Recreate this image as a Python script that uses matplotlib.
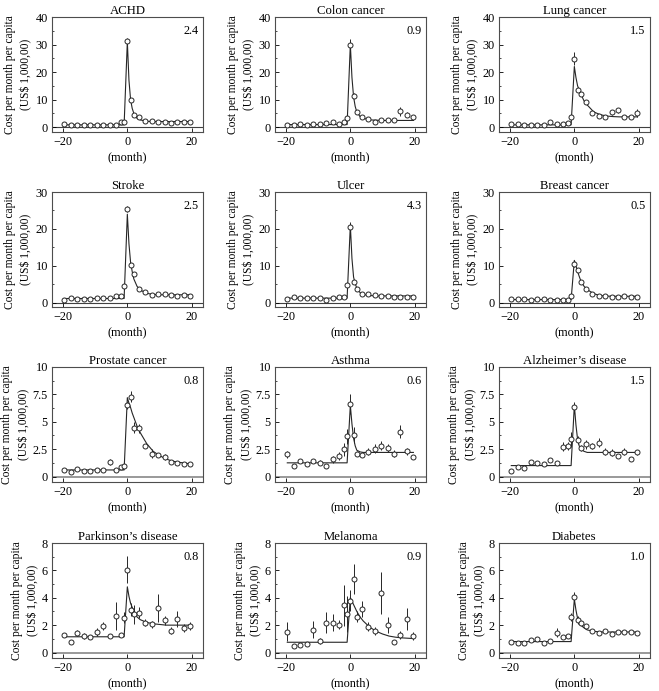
import numpy as np
import matplotlib.pyplot as plt
from matplotlib.ticker import AutoMinorLocator

plt.rcParams['font.family'] = ['Liberation Serif', 'DejaVu Serif']

# month positions of the observed points (same for every panel)
months = [-19.5, -17.5, -15.5, -13.5, -11.5, -9.5, -7.5, -5.5, -3.5, -2, -1,
          0, 1, 2, 3.5, 5.5, 7.5, 9.5, 11.5, 13.5, 15.5, 17.5, 19.5]
# months where the fitted curve was read
fit_x = [-19.5, -1, 0, 0.5, 1, 1.5, 2, 3, 4, 6, 8, 10, 12, 14, 16, 19.5]

titles = ["ACHD", "Colon cancer", "Lung cancer",
          "Stroke", "Ulcer", "Breast cancer",
          "Prostate cancer", "Asthma", "Alzheimer\u2019s disease",
          "Parkinson\u2019s disease", "Melanoma", "Diabetes"]
corner = ["2.4", "0.9", "1.5", "2.5", "4.3", "0.5",
          "0.8", "0.6", "1.5", "0.8", "0.9", "1.0"]

achd_y = [1.0, 0.6, 0.7, 0.6, 0.7, 0.6, 0.8, 0.8, 0.7, 2.0, 2.0,
          31.3, 9.9, 4.2, 3.6, 2.2, 2.2, 1.9, 1.9, 1.6, 1.7, 1.9, 1.9]
achd_err = [0.3] * 11 + [1.0, 0.6, 0.4, 0.4] + [0.3] * 8
achd_fit = [0.8, 0.8, 31, 17, 10, 6.8, 5, 3.2, 2.6, 2.1, 2.0, 2.0, 2.0, 2.0, 2.0, 2.0]

colon_y = [0.8, 0.8, 1.1, 0.7, 1.0, 1.1, 1.3, 1.9, 1.0, 1.9, 3.3,
           29.9, 11.4, 5.3, 3.7, 2.8, 1.9, 2.4, 2.4, 2.4, 5.7, 4.5, 3.5]
colon_err = [0.3] * 10 + [0.5, 2.0, 0.8, 0.4, 0.4, 0.3, 0.3, 0.3, 0.3, 0.3, 1.6, 1.0, 0.5]
colon_fit = [0.9, 0.9, 30, 18, 11, 7.5, 5.5, 3.8, 3.2, 2.6, 2.5, 2.4, 2.4, 2.4, 2.4, 2.4]

lung_y = [1.1, 1.1, 0.6, 0.6, 0.8, 0.8, 2.0, 1.1, 1.2, 1.6, 3.7,
          24.9, 13.5, 12.0, 9.0, 5.1, 4.1, 3.6, 5.3, 6.1, 3.7, 3.5, 5.1]
lung_err = [0.3] * 10 + [0.5, 2.5, 0.8, 0.8, 0.8, 0.5, 0.4, 0.4, 1.0, 1.0, 0.4, 0.4, 1.5]
lung_fit = [0.8, 0.8, 22, 18, 15, 13.5, 12, 9.5, 8, 5.5, 4.5, 4.0, 3.8, 3.7, 3.7, 3.7]

stroke_y = [0.9, 1.2, 1.1, 1.0, 1.1, 1.3, 1.2, 1.3, 1.8, 1.8, 4.5,
            25.4, 10.2, 7.7, 3.8, 2.9, 2.2, 2.4, 2.4, 2.1, 2.0, 2.2, 1.9]
stroke_err = [0.3] * 10 + [0.4, 0.8, 0.5, 0.5, 0.4] + [0.3] * 8
stroke_fit = [1.2, 1.2, 24, 16, 11, 8.5, 6.5, 4.5, 3.5, 2.6, 2.3, 2.2, 2.2, 2.2, 2.2, 2.2]

ulcer_y = [1.0, 1.6, 1.2, 1.2, 1.4, 1.4, 0.8, 1.3, 1.6, 1.6, 4.8,
           20.4, 5.7, 3.9, 2.5, 2.5, 2.1, 2.0, 2.0, 1.6, 1.6, 1.6, 1.7]
ulcer_err = [0.3] * 10 + [0.5, 1.6, 0.6, 0.4] + [0.3] * 9
ulcer_fit = [1.3, 1.3, 21, 12, 7, 5.2, 4, 2.8, 2.3, 2.0, 1.9, 1.9, 1.9, 1.9, 1.9, 1.9]

breast_y = [1.0, 1.0, 1.0, 0.8, 1.0, 1.0, 0.9, 0.7, 0.8, 0.8, 1.9,
            10.4, 8.9, 5.6, 3.7, 2.4, 1.9, 1.9, 1.5, 1.7, 1.9, 1.5, 1.6]
breast_err = [0.2] * 10 + [0.3, 0.8, 0.5, 0.4, 0.3] + [0.2] * 8
breast_fit = [0.9, 0.9, 11.5, 10, 8.5, 7.2, 6, 4.5, 3.6, 2.5, 2.0, 1.85, 1.8, 1.8, 1.8, 1.8]

prostate_y = [0.58, 0.45, 0.7, 0.5, 0.5, 0.6, 0.6, 1.33, 0.6, 0.85, 1.0,
              6.5, 7.3, 4.45, 4.4, 2.8, 2.1, 1.95, 1.8, 1.35, 1.27, 1.12, 1.15]
prostate_err = [0.08] * 7 + [0.3, 0.08, 0.12, 0.15,
                             0.3, 0.5, 0.5, 0.4, 0.2, 0.4, 0.2, 0.3, 0.12, 0.1, 0.1, 0.1]
prostate_fit = [0.6, 0.6, 7.2, 6.7, 6.3, 5.8, 5.4, 4.6, 4.0, 3.0, 2.3, 1.9, 1.6, 1.4, 1.3, 1.15]

asthma_y = [2.03, 0.94, 1.4, 1.12, 1.45, 1.27, 0.94, 1.58, 1.88, 2.5, 3.67,
            6.64, 3.8, 2.1, 2.0, 2.27, 2.55, 2.8, 2.6, 2.1, 4.1, 2.3, 1.8]
asthma_err = [0.3, 0.1, 0.2, 0.15, 0.15, 0.2, 0.1, 0.3, 0.35, 0.6, 0.7,
              0.9, 0.7, 0.25, 0.2, 0.3, 0.4, 0.4, 0.4, 0.3, 0.6, 0.3, 0.2]
asthma_fit = [1.25, 1.25, 6.5, 4.8, 3.5, 2.8, 2.4, 2.25, 2.2, 2.2, 2.2, 2.2, 2.2, 2.2, 2.2, 2.2]

alz_y = [0.52, 0.88, 0.8, 1.3, 1.27, 1.15, 1.48, 1.24, 2.73, 2.79, 3.4,
         6.33, 3.33, 2.6, 2.94, 2.79, 3.1, 2.27, 2.18, 1.85, 2.27, 1.6, 2.21]
alz_err = [0.1, 0.1, 0.1, 0.15, 0.15, 0.2, 0.15, 0.15, 0.4, 0.4, 0.7,
           0.5, 0.4, 0.3, 0.4, 0.3, 0.4, 0.3, 0.3, 0.2, 0.3, 0.2, 0.25]
alz_fit = [1.0, 1.0, 6.5, 4.7, 3.4, 2.8, 2.5, 2.3, 2.2, 2.2, 2.2, 2.2, 2.2, 2.2, 2.2, 2.2]

park_y = [1.31, 0.78, 1.44, 1.22, 1.14, 1.5, 1.92, 1.22, 2.68, 1.26, 2.55,
          6.06, 3.14, 2.8, 2.92, 2.17, 2.07, 3.26, 2.34, 1.58, 2.43, 1.8, 1.92]
park_err = [0.15, 0.08, 0.2, 0.2, 0.15, 0.3, 0.3, 0.12, 1.0, 0.15, 0.4,
            1.0, 0.5, 0.7, 0.4, 0.25, 0.25, 1.0, 0.3, 0.25, 0.6, 0.3, 0.3]
park_fit = [1.15, 1.15, 4.8, 4.1, 3.6, 3.3, 3.0, 2.6, 2.4, 2.2, 2.1, 2.05, 2.0, 2.0, 2.0, 2.0]

mel_y = [1.51, 0.49, 0.54, 0.61, 1.68, 0.85, 2.19, 2.19, 2.04, 3.45, 2.82,
         3.8, 5.4, 2.6, 3.2, 1.9, 1.55, 4.35, 2.0, 0.8, 1.3, 2.43, 1.2]
mel_err = [0.7, 0.08, 0.08, 0.08, 0.6, 0.2, 0.8, 0.6, 0.3, 1.5, 1.3,
           0.8, 1.1, 0.4, 0.6, 0.3, 0.3, 1.5, 0.6, 0.15, 0.3, 0.8, 0.3]
mel_fit = [0.75, 0.75, 4.0, 3.75, 3.5, 3.25, 3.0, 2.6, 2.3, 1.85, 1.55, 1.35, 1.2, 1.12, 1.07, 1.02]

diab_y = [0.75, 0.68, 0.7, 0.88, 0.97, 0.68, 0.85, 1.46, 1.14, 1.24, 2.6,
          4.09, 2.36, 2.15, 1.95, 1.55, 1.42, 1.6, 1.35, 1.53, 1.5, 1.48, 1.42]
diab_err = [0.06] * 7 + [0.3, 0.08, 0.1, 0.3,
                         0.3, 0.3, 0.15, 0.15, 0.1, 0.08, 0.08, 0.08, 0.08, 0.08, 0.08, 0.08]
diab_fit = [0.8, 0.8, 3.9, 3.1, 2.5, 2.2, 2.0, 1.8, 1.65, 1.55, 1.5, 1.5, 1.5, 1.5, 1.5, 1.5]

values = [achd_y, colon_y, lung_y, stroke_y, ulcer_y, breast_y,
          prostate_y, asthma_y, alz_y, park_y, mel_y, diab_y]
errors = [achd_err, colon_err, lung_err, stroke_err, ulcer_err, breast_err,
          prostate_err, asthma_err, alz_err, park_err, mel_err, diab_err]
fits = [achd_fit, colon_fit, lung_fit, stroke_fit, ulcer_fit, breast_fit,
        prostate_fit, asthma_fit, alz_fit, park_fit, mel_fit, diab_fit]

# per-row y axis settings
row_ylim = [(-1.8, 40), (-1.1, 30), (-0.5, 10), (-0.4, 8)]
row_yticks = [[0, 10, 20, 30, 40], [0, 10, 20, 30], [0, 2.5, 5, 7.5, 10], [0, 2, 4, 6, 8]]
row_ytlabels = [["0", "10", "20", "30", "40"], ["0", "10", "20", "30"],
                ["0", "2.5", "5", "7.5", "10"], ["0", "2", "4", "6", "8"]]

W, H = 659, 691
fig = plt.figure(figsize=(W / 100, H / 100), dpi=100)
lefts = [52, 275, 499]
tops = [17, 192, 367, 543]
aw, ah = 151, 115

for i in range(12):
    r, c = divmod(i, 3)
    ax = fig.add_axes([lefts[c] / W, 1 - (tops[r] + ah) / H, aw / W, ah / H])
    if r < 2:
        ax.axhline(0, color='0.25', lw=0.8, zorder=1)
    else:
        ax.axhline(0, color='0.6', lw=1.4, zorder=1)
    ax.plot(fit_x, fits[i], color='0.15', lw=0.8, zorder=2)
    ax.errorbar(months, values[i], yerr=errors[i], fmt='o', ms=3.6,
                mfc='white', mec='0.15', mew=0.7, ecolor='0.15',
                elinewidth=0.7, capsize=0, zorder=3)
    ax.set_xlim(-23.3, 23.4)
    ax.set_ylim(*row_ylim[r])
    ax.set_xticks([-20, 0, 20])
    ax.set_xticklabels(["\u221220", "0", "20"])
    ax.set_yticks(row_yticks[r])
    ax.set_yticklabels(row_ytlabels[r])
    ax.yaxis.set_minor_locator(AutoMinorLocator(2))
    ax.tick_params(direction='in', labelsize=8.8, length=3, width=0.6, pad=3)
    ax.tick_params(which='minor', direction='in', length=1.5, width=0.5)
    for s in ax.spines.values():
        s.set_color('0.3')
        s.set_linewidth(0.8)
    ax.set_title(titles[i], fontsize=9.2, pad=2)
    ax.text(0.97, 0.93, corner[i], transform=ax.transAxes, ha='right', va='top', fontsize=8.8)
    ax.set_xlabel("(month)", fontsize=8.8, labelpad=2)
    ax.set_ylabel("Cost per month per capita\n(US\\$ 1,000,00)", fontsize=8.3,
                  labelpad=2, linespacing=1.45)

fig.savefig("out.png", dpi=100)
